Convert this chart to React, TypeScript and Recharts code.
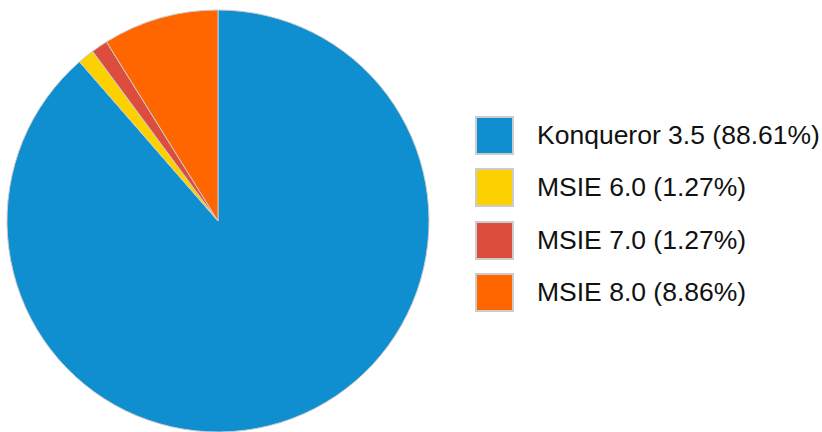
import { Cell, Legend, Pie, PieChart } from "recharts";

const browsers = ["Konqueror 3.5", "MSIE 6.0", "MSIE 7.0", "MSIE 8.0"];
const hits = [70, 1, 1, 7];
const sliceColors = ["#0f8fcf", "#fdd000", "#dc4d3e", "#ff6600"];

const total = hits.reduce((a, b) => a + b, 0);
const data = browsers.map((name, i) => ({ name, value: hits[i] }));

function formatPercent(value: number) {
  return ((value / total) * 100).toFixed(2) + "%";
}

function BrowserLegend() {
  return (
    <div style={{ fontFamily: "'Liberation Sans', Arial, sans-serif" }}>
      {data.map((entry, index) => (
        <div key={entry.name} style={{ display: "flex", alignItems: "center", height: 52.3 }}>
          <span
            style={{
              width: 35,
              height: 35,
              backgroundColor: sliceColors[index],
              border: "2px solid #cccccc",
              display: "inline-block",
              flexShrink: 0,
            }}
          />
          <span style={{ marginLeft: 23, fontSize: 26.5, color: "#111111", whiteSpace: "nowrap" }}>
            {entry.name} ({formatPercent(entry.value)})
          </span>
        </div>
      ))}
    </div>
  );
}

export default function App() {
  return (
    <div style={{ position: "absolute", left: 0, top: 0, width: 822, height: 432, background: "#ffffff" }}>
      <PieChart width={822} height={432} margin={{ top: 0, right: 0, bottom: 0, left: 0 }}>
        <Pie
          data={data}
          dataKey="value"
          nameKey="name"
          cx={218}
          cy={221}
          outerRadius={211}
          startAngle={90}
          endAngle={-270}
          stroke="#cccccc"
          strokeWidth={1}
          isAnimationActive={false}
        >
          {data.map((entry, index) => (
            <Cell key={entry.name} fill={sliceColors[index]} />
          ))}
        </Pie>
        <Legend
          layout="vertical"
          content={() => <BrowserLegend />}
          wrapperStyle={{ position: "absolute", left: 475, top: 109.5, width: 347 }}
        />
      </PieChart>
    </div>
  );
}
